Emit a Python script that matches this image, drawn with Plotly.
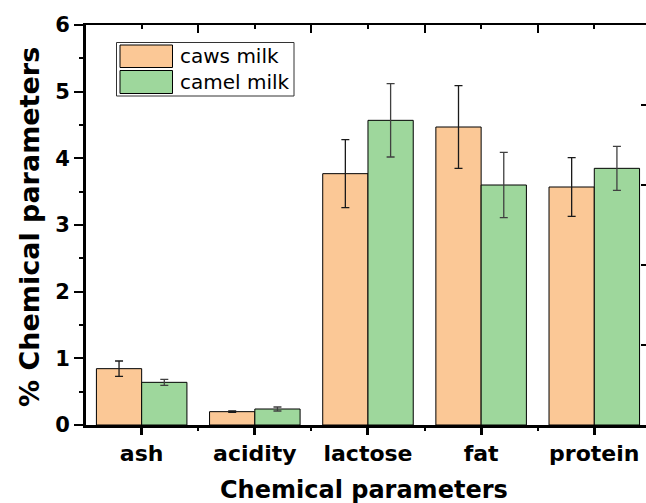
import plotly.graph_objects as go

categories = ["ash", "acidity", "lactose", "fat", "protein"]
caws_milk = [0.845, 0.20, 3.77, 4.47, 3.57]
caws_err = [0.115, 0.01, 0.51, 0.62, 0.44]
camel_milk = [0.64, 0.24, 4.57, 3.60, 3.85]
camel_err = [0.045, 0.03, 0.55, 0.49, 0.33]
series_names = ["caws milk", "camel milk"]
y_ticks = [0, 1, 2, 3, 4, 5, 6]

ORANGE = "#FBC896"
GREEN = "#9ED79C"
W, H = 646, 503
L, R, T, B = 86, 0, 25, 78
PW, PH = W - L - R, H - T - B

def px(x):
    return (x - L) / PW

def py(y):
    return (H - B - y) / PH

xs = list(range(len(categories)))
xr = [-0.492, 4.457]

fig = go.Figure()
fig.add_trace(go.Bar(
    x=xs, y=caws_milk, name=series_names[0],
    marker=dict(color=ORANGE, line=dict(color="black", width=1)),
    error_y=dict(type="data", array=caws_err, color="#1a1a1a", thickness=1.3, width=4),
    showlegend=False,
))
fig.add_trace(go.Bar(
    x=xs, y=camel_milk, name=series_names[1],
    marker=dict(color=GREEN, line=dict(color="black", width=1)),
    error_y=dict(type="data", array=camel_err, color="#404040", thickness=1.3, width=4),
    showlegend=False,
))
# helper trace for top/right decorative axes
fig.add_trace(go.Scatter(x=[None], y=[None], xaxis="x2", yaxis="y2",
                         showlegend=False, hoverinfo="skip"))

fig.update_layout(
    width=W, height=H,
    margin=dict(l=L, r=R, t=T, b=B),
    paper_bgcolor="white", plot_bgcolor="white",
    barmode="group", bargap=0.2, bargroupgap=0,
    showlegend=False,
    font=dict(family="DejaVu Sans", color="black"),
    xaxis=dict(
        range=xr, tickmode="array", tickvals=xs, ticktext=categories,
        showgrid=False, zeroline=False,
        showline=True, linecolor="black", linewidth=3,
        ticks="outside", ticklen=7, tickwidth=2.5, tickcolor="black",
        tickfont=dict(family="DejaVu Sans", size=22, color="black", weight="bold"),
        minor=dict(tickmode="array", tickvals=[0.5, 1.5, 2.5, 3.5],
                   ticks="outside", ticklen=3, tickwidth=2, tickcolor="black"),
    ),
    xaxis2=dict(
        overlaying="x", side="top", range=xr,
        tickmode="array", tickvals=[0.5, 1.5, 2.5, 3.5],
        showticklabels=False, showgrid=False, zeroline=False,
        showline=True, linecolor="black", linewidth=1.5,
        ticks="inside", ticklen=8, tickwidth=1.5, tickcolor="black",
        minor=dict(tickmode="array", tickvals=xs,
                   ticks="inside", ticklen=4, tickwidth=1.5, tickcolor="black"),
    ),
    yaxis=dict(
        range=[0, 6], tickmode="array", tickvals=y_ticks,
        showgrid=False, zeroline=False,
        showline=True, linecolor="black", linewidth=3,
        ticks="outside", ticklen=9, tickwidth=2, tickcolor="black",
        tickfont=dict(family="DejaVu Sans", size=21, color="black", weight="bold"),
        minor=dict(tick0=0.5, dtick=1, ticks="outside", ticklen=4,
                   tickwidth=2, tickcolor="black"),
    ),
    yaxis2=dict(
        overlaying="y", side="right", range=[0, 5],
        tickmode="array", tickvals=[1, 2, 3, 4],
        showticklabels=False, showgrid=False, zeroline=False, showline=False,
        ticks="inside", ticklen=5, tickwidth=1.5, tickcolor="black",
    ),
)

# axis titles
fig.add_annotation(text="% Chemical parameters", xref="paper", yref="paper",
                   x=px(29), y=py(227), xanchor="center", yanchor="middle",
                   textangle=-90, showarrow=False,
                   font=dict(family="DejaVu Sans", size=27, color="black", weight="bold"))
fig.add_annotation(text="Chemical parameters", xref="paper", yref="paper",
                   x=px(364), y=py(490), xanchor="center", yanchor="middle",
                   showarrow=False,
                   font=dict(family="DejaVu Sans", size=24, color="black", weight="bold"))

# legend drawn as shapes + text
fig.add_shape(type="rect", xref="paper", yref="paper",
              x0=px(116.5), x1=px(294), y0=py(96), y1=py(42.5),
              line=dict(color="#333333", width=1), fillcolor="white", layer="above")
legend_rows = [(45, 67.5, ORANGE, series_names[0]), (70.5, 93.5, GREEN, series_names[1])]
for y0, y1, col, name in legend_rows:
    fig.add_shape(type="rect", xref="paper", yref="paper",
                  x0=px(120), x1=px(172.5), y0=py(y1), y1=py(y0),
                  line=dict(color="black", width=1), fillcolor=col, layer="above")
    fig.add_annotation(text=name, xref="paper", yref="paper",
                       x=px(178), y=py((y0 + y1) / 2), xanchor="left", yanchor="middle",
                       showarrow=False,
                       font=dict(family="DejaVu Sans", size=20, color="black"))

fig.write_html("out.html")
